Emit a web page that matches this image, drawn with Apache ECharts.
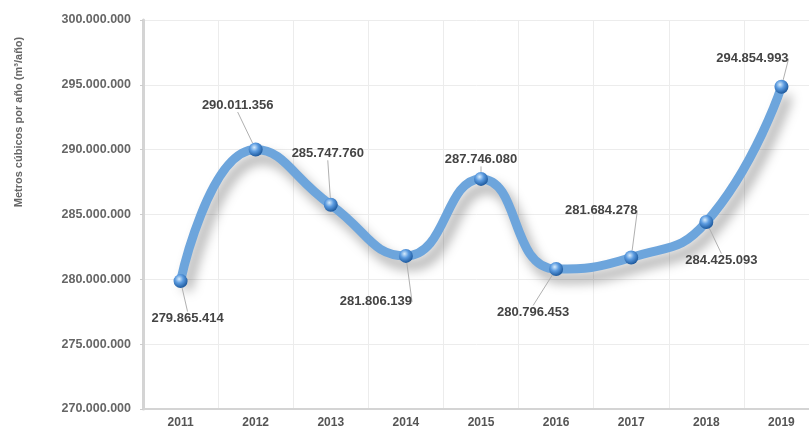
<!DOCTYPE html>
<html>
<head>
<meta charset="utf-8">
<script src="https://cdn.jsdelivr.net/npm/echarts@6/dist/echarts.min.js"></script>
<style>html,body{margin:0;padding:0;background:#fff}#c{width:809px;height:429px}</style>
</head>
<body>
<div id="c"></div>
<script>
var years = ['2011','2012','2013','2014','2015','2016','2017','2018','2019'];
var volumes = [279865414, 290011356, 285747760, 281806139, 287746080, 280796453, 281684278, 284425093, 294854993];
var yTicks = [270000000, 275000000, 280000000, 285000000, 290000000, 295000000, 300000000];
var axisTitle = 'Metros cúbicos por año (m³/año)';
// label offsets (styling) relative to each point
var labelDx = [7, -18, -3, -30, 0, -23, -30, 15, -29];
var labelDy = [37, -44, -51, 46, -19, 43, -47, 38, -28];

function fmt(v) {
  return String(Math.round(v)).replace(/\B(?=(\d{3})+(?!\d))/g, '.');
}

var chart = echarts.init(document.getElementById('c'), null, {renderer: 'canvas'});
chart.setOption({
  animation: false,
  backgroundColor: '#ffffff',
  grid: {left: 143, top: 20, bottom: 20, right: -532 + 522, containLabel: false, outerBoundsMode: 'none'},
  graphic: [{
    type: 'text',
    x: 19, y: 122,
    rotation: Math.PI / 2,
    style: {
      text: axisTitle,
      fill: '#666',
      font: 'bold 11px "Liberation Sans", Arial, sans-serif',
      textAlign: 'center',
      textVerticalAlign: 'middle'
    }
  }],
  xAxis: {
    type: 'category',
    data: years,
    boundaryGap: true,
    axisLine: {show: true, lineStyle: {color: '#d4d4d4', width: 2}},
    axisTick: {show: false},
    axisLabel: {color: '#555', fontSize: 12, fontWeight: 'bold', fontFamily: '"Liberation Sans", Arial, sans-serif', margin: 8},
    splitLine: {show: true, lineStyle: {color: '#ececec', width: 1}}
  },
  yAxis: {
    type: 'value',
    min: yTicks[0],
    max: yTicks[yTicks.length - 1],
    interval: yTicks[1] - yTicks[0],
    axisLine: {show: true, lineStyle: {color: '#d4d4d4', width: 3}},
    axisTick: {show: true, length: 3, lineStyle: {color: '#ccc'}},
    axisLabel: {color: '#666', fontSize: 12.5, fontWeight: 'bold', fontFamily: '"Liberation Sans", Arial, sans-serif', margin: 12, formatter: fmt},
    splitLine: {show: true, lineStyle: {color: '#ececec', width: 1}}
  },
  series: [{
    type: 'line',
    data: volumes,
    smooth: 0.5,
    symbol: 'circle',
    symbolSize: 14,
    lineStyle: {
      color: '#6da5dc',
      width: 9,
      shadowColor: 'rgba(0,0,0,0.35)',
      shadowBlur: 12,
      shadowOffsetX: 6,
      shadowOffsetY: 9
    },
    itemStyle: {
      color: {
        type: 'radial', x: 0.4, y: 0.35, r: 0.65,
        colorStops: [
          {offset: 0, color: '#d6ebfc'},
          {offset: 0.45, color: '#5b9be0'},
          {offset: 1, color: '#1e5a9e'}
        ]
      },
      borderWidth: 0
    },
    label: {
      show: true,
      position: 'inside',
      color: '#444',
      fontSize: 13,
      fontWeight: 'bold',
      fontFamily: '"Liberation Sans", Arial, sans-serif',
      formatter: function (p) { return fmt(p.value); }
    },
    labelLine: {show: true, lineStyle: {color: '#b0b0b0', width: 1}},
    labelLayout: function (p) {
      return {dx: labelDx[p.dataIndex], dy: labelDy[p.dataIndex]};
    }
  }]
});
</script>
</body>
</html>
